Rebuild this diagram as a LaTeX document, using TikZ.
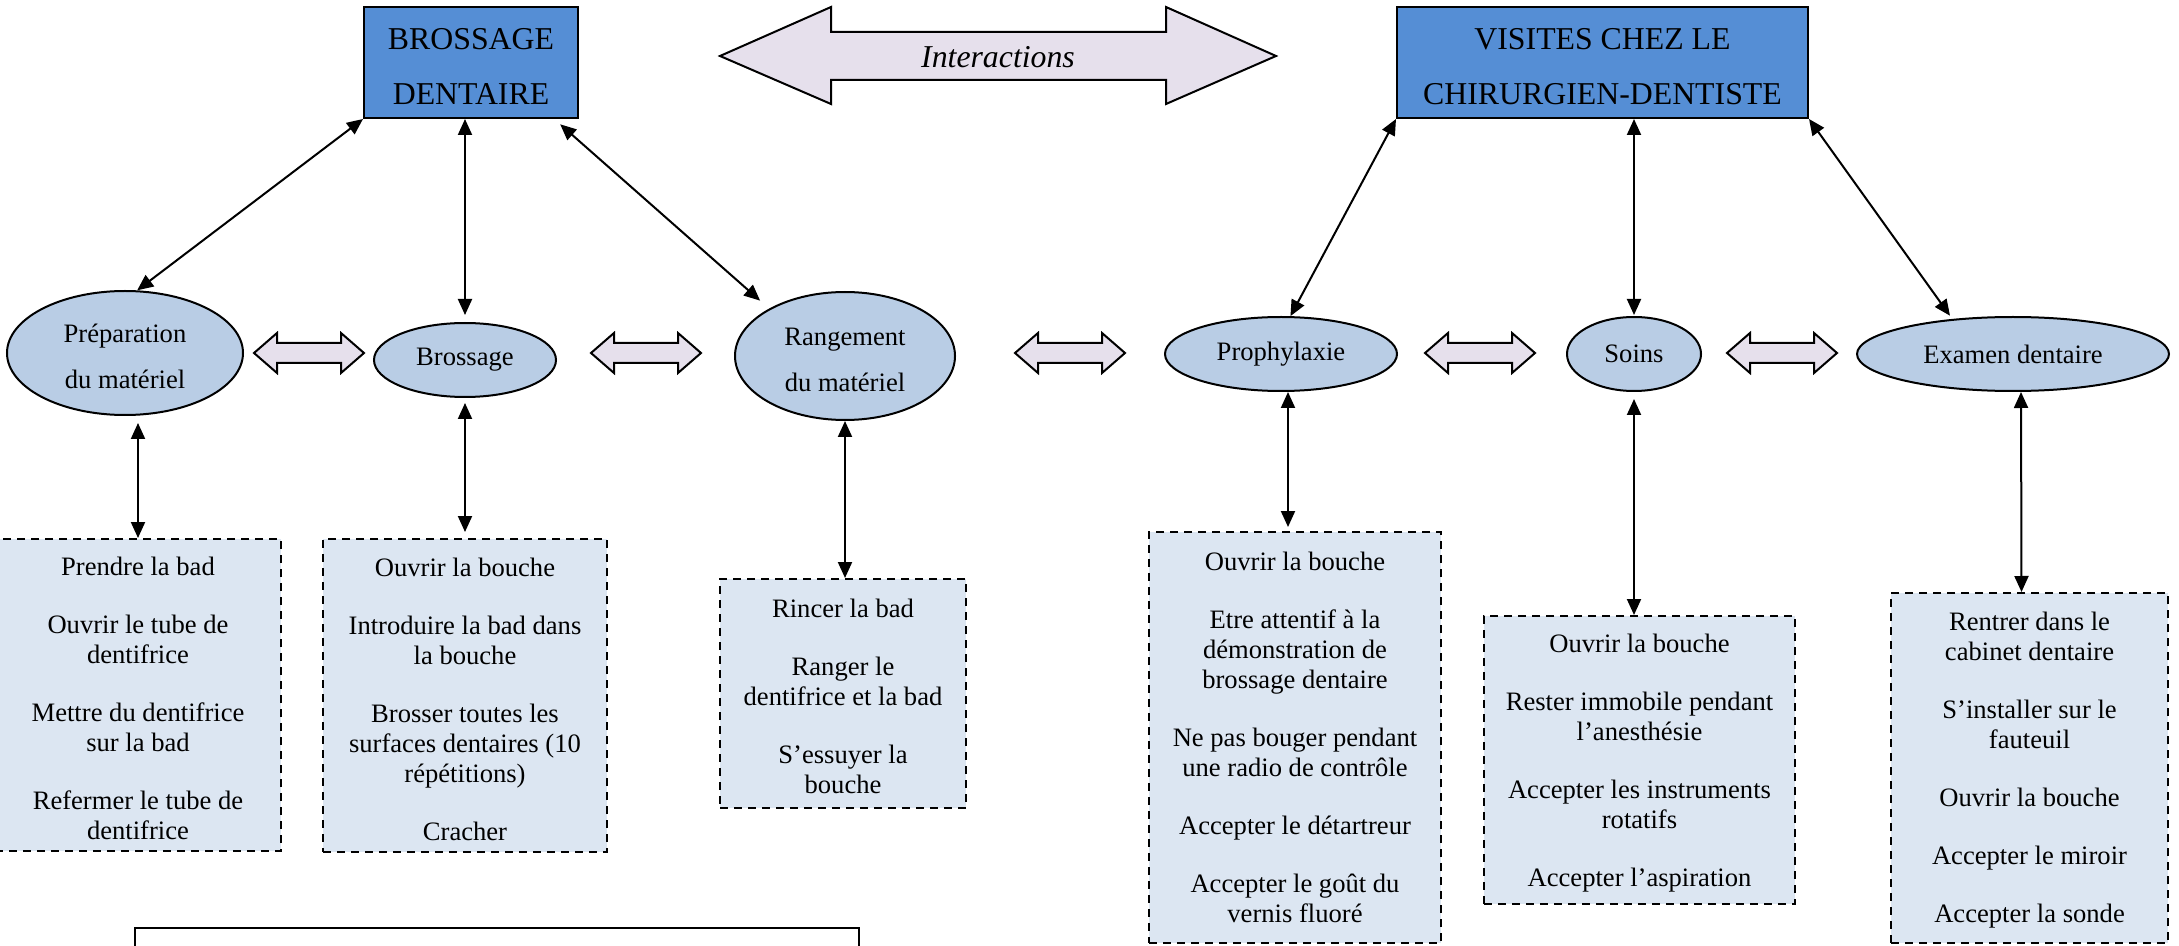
\documentclass[tikz,border=0pt]{standalone}
\usepackage{fontspec}
\setmainfont{Liberation Serif}
\usepackage{tikz}
\usetikzlibrary{calc}
\usetikzlibrary{shapes}
\usetikzlibrary{arrows.meta}

\definecolor{headblue}{HTML}{558ED5}
\definecolor{ovalblue}{HTML}{B9CDE5}
\definecolor{listblue}{HTML}{DCE6F2}
\definecolor{lilac}{HTML}{E6E0EC}

\begin{document}
\begin{tikzpicture}[x=0.5pt,y=-0.5pt,
        head/.style={draw,line width=1pt,fill=headblue,inner sep=0pt,align=center,font=\fontsize{15.9}{27.5}\selectfont},
        oval/.style={ellipse,draw,line width=1pt,fill=ovalblue,inner sep=0pt,align=center,font=\fontsize{13.3}{23}\selectfont},
        tasks/.style={draw,dash pattern=on 4pt off 3pt,line width=1pt,fill=listblue,inner sep=0pt,align=center,font=\fontsize{13.3}{15}\selectfont},
        link/.style={line width=1pt,{Triangle[length=8pt,width=7pt]}-{Triangle[length=8pt,width=7pt]}},
        twin/.style={draw,line width=1pt,fill=lilac,line join=miter}]
        \newcommand*\gap{\\[14pt]}
        \newcommand*\lift[1]{\rule{0pt}{#1}}
        \clip (0,0) rectangle (2179,946);
        % the two themes
        \node[head,minimum width=107pt,minimum height=55.5pt] (brush) at (471,62.5) {\lift{14.5pt}BROSSAGE\\DENTAIRE};
        \node[head,minimum width=205.5pt,minimum height=55.5pt] (visit) at (1602.5,62.5) {\lift{14.5pt}VISITES CHEZ LE\\CHIRURGIEN-DENTISTE};
        \draw[twin] (720,56) -- (831,7) -- (831,32) -- (1166,32) -- (1166,7) -- (1276,56) -- (1166,104) -- (1166,80) -- (831,80) -- (831,104) -- cycle;
        \node[font=\fontsize{15.9}{18}\selectfont\itshape] (inter) at (998,57) {Interactions};
        % steps
        \node[oval,minimum width=118pt,minimum height=62pt] (prep) at (125,353) {\lift{13pt}Préparation\\du matériel};
        \node[oval,minimum width=91pt,minimum height=37pt] (bros) at (465,360) {Brossage};
        \node[oval,minimum width=110pt,minimum height=64pt] (rang) at (845,356) {\lift{13pt}Rangement\\du matériel};
        \node[oval,minimum width=116pt,minimum height=37pt] (proph) at (1281,354) {Prophylaxie};
        \node[oval,minimum width=67pt,minimum height=37pt] (soins) at (1634,354) {Soins};
        \node[oval,minimum width=156pt,minimum height=37pt] (exam) at (2013,354) {Examen dentaire};
        \foreach \cx in {309,646,1070,1480,1782} {
            \draw[twin] (\cx-55,353) -- (\cx-32,333) -- (\cx-32,343) -- (\cx+32,343) -- (\cx+32,333) -- (\cx+55,353) -- (\cx+32,373) -- (\cx+32,363) -- (\cx-32,363) -- (\cx-32,373) -- cycle;}
        % task lists
        \node[tasks,minimum width=143pt,minimum height=156pt] (l1) at (138,695) {\lift{13pt}Prendre la bad\gap Ouvrir le tube de\\dentifrice\gap Mettre du dentifrice\\sur la bad\gap Refermer le tube de\\dentifrice};
        \node[tasks,minimum width=142pt,minimum height=156.5pt] (l2) at (465,695.5) {\lift{13pt}Ouvrir la bouche\gap Introduire la bad dans\\la bouche\gap Brosser toutes les\\surfaces dentaires (10\\répétitions)\gap Cracher};
        \node[tasks,minimum width=123pt,minimum height=114.5pt] (l3) at (843,693.5) {\lift{12pt}Rincer la bad\gap Ranger le\\dentifrice et la bad\gap S’essuyer la\\bouche};
        \node[tasks,minimum width=146pt,minimum height=205.5pt] (l4) at (1295,737.5) {\lift{9.5pt}Ouvrir la bouche\gap Etre attentif à la\\démonstration de\\brossage dentaire\gap Ne pas bouger pendant\\une radio de contrôle\gap Accepter le détartreur\gap Accepter le goût du\\vernis fluoré};
        \node[tasks,minimum width=155.5pt,minimum height=144pt] (l5) at (1639.5,760) {\lift{12pt}Ouvrir la bouche\gap Rester immobile pendant\\l’anesthésie\gap Accepter les instruments\\rotatifs\gap Accepter l’aspiration};
        \node[tasks,minimum width=138.5pt,minimum height=175pt] (l6) at (2029.5,768) {\lift{11pt}Rentrer dans le\\cabinet dentaire\gap S’installer sur le\\fauteuil\gap Ouvrir la bouche\gap Accepter le miroir\gap Accepter la sonde};
        % links
        \draw[link] (brush.south west) -- (prep.79);
        \draw[link,shorten >=3.5pt] (brush.south -| bros.north) -- (bros.north);
        \draw[link,shorten <=4pt,shorten >=6pt] ($(brush.south)!0.77!(brush.south east)$) -- (rang.148);
        \draw[link] (visit.south west) -- (proph.76);
        \draw[link,shorten >=0.5pt] (visit.south -| soins.north) -- (soins.north);
        \draw[link,shorten >=2pt] (visit.south east) -- (exam.150);
        \draw[link,shorten <=3.5pt] (l1.north |- prep.south) -- (l1.north);
        \draw[link,shorten <=2.5pt,shorten >=3pt] (bros.south) -- (bros.south |- l2.north);
        \draw[link] (rang.south) -- (rang.south |- l3.north);
        \draw[link,shorten >=2pt] ($(proph.south)+(7,0)$) -- ($(l4.north)+(-7,0)$);
        \draw[link,shorten <=3.5pt] (soins.south) -- (soins.south |- l5.north);
        \draw[link] ($(exam.south)+(8,0)$) -- ($(l6.north)+(-8,0)$);
        \draw[line width=1.2pt] (135,928) rectangle (859,990);
\end{tikzpicture}
\end{document}
